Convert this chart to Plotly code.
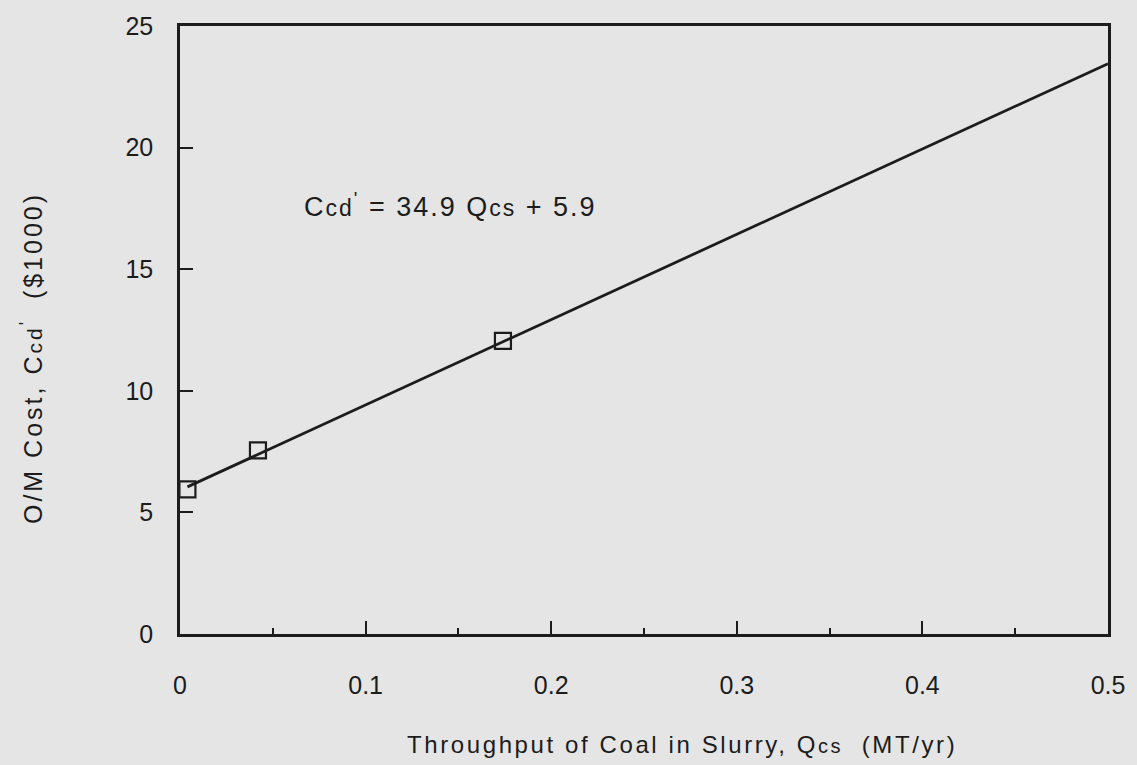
import plotly.graph_objects as go

# data
throughput = [0.004, 0.042, 0.174]          # Q_cs (MT/yr)
om_cost = [5.95, 7.55, 12.05]               # C_cd' ($1000)
fit_x = [0.004, 0.5]                        # ends of the fitted line
fit_y = [6.05, 23.45]

x_ticks = [0, 0.1, 0.2, 0.3, 0.4, 0.5]
x_tick_text = ["0", "0.1", "0.2", "0.3", "0.4", "0.5"]
y_ticks = [0, 5, 10, 15, 20, 25]
y_tick_text = ["0", "5", "10", "15", "20", "25"]

BG = "#e5e5e5"
INK = "#1c1c1c"
FONT = "Liberation Sans, Arial, sans-serif"

fig = go.Figure()
fig.add_trace(go.Scatter(x=fit_x, y=fit_y, mode="lines",
                         line=dict(color=INK, width=2.8), showlegend=False,
                         hoverinfo="skip"))
fig.add_trace(go.Scatter(x=throughput, y=om_cost, mode="markers",
                         marker=dict(symbol="square-open", size=16,
                                     color=INK, line=dict(width=2.2, color=INK)),
                         showlegend=False))

# plot-area pixel box
L, R, T, B = 180, 1110, 20, 634
def px_to_paper(px, py):
    return (px - L) / (R - L), (B - py) / (B - T)

eq_x, eq_y = px_to_paper(302, 201)
xt_x, xt_y = px_to_paper(683, 746)
yt_x, yt_y = px_to_paper(31, 355)

fig.update_layout(
    width=1137, height=765,
    margin=dict(l=L, r=1137 - R, t=T, b=765 - B),
    paper_bgcolor=BG, plot_bgcolor=BG,
    font=dict(family=FONT, color=INK, size=24),
    xaxis=dict(range=[0, 0.5], tickvals=x_ticks, ticktext=x_tick_text,
               ticks="inside", ticklen=13, tickwidth=2, tickcolor=INK,
               minor=dict(dtick=0.05, tick0=0, ticks="inside", ticklen=6,
                          tickwidth=2, tickcolor=INK, showgrid=False),
               showline=True, linecolor=INK, linewidth=2.5, mirror=True,
               showgrid=False, zeroline=False, ticklabelstandoff=27,
               tickfont=dict(size=25, family=FONT, color=INK)),
    yaxis=dict(range=[0, 25], tickvals=y_ticks, ticktext=y_tick_text,
               ticks="inside", ticklen=13, tickwidth=2, tickcolor=INK,
               showline=True, linecolor=INK, linewidth=2.5, mirror=True,
               showgrid=False, zeroline=False, ticklabelstandoff=19,
               tickfont=dict(size=25, family=FONT, color=INK)),
    annotations=[
        dict(text="<span style='letter-spacing:2px'>C<span style='font-size:23px'>cd</span><sup>'</sup> = 34.9 Q<span style='font-size:23px'>cs</span> + 5.9</span>",
             x=eq_x, y=eq_y, xref="paper", yref="paper", showarrow=False,
             xanchor="left", yanchor="middle",
             font=dict(size=27, family=FONT, color=INK)),
        dict(text="<span style='letter-spacing:2.6px'>Throughput of Coal in Slurry, Q<span style='font-size:20px'>cs</span>  (MT/yr)</span>",
             x=xt_x, y=xt_y, xref="paper", yref="paper", showarrow=False,
             xanchor="center", yanchor="middle",
             font=dict(size=24, family=FONT, color=INK)),
        dict(text="<span style='letter-spacing:3px'>O/M Cost, C<span style='font-size:21px'>cd</span><sup>'</sup>  ($1000)</span>",
             x=yt_x, y=yt_y, xref="paper", yref="paper", showarrow=False,
             textangle=-90, xanchor="center", yanchor="middle",
             font=dict(size=25, family=FONT, color=INK)),
    ],
)

fig.write_html("out.html")
